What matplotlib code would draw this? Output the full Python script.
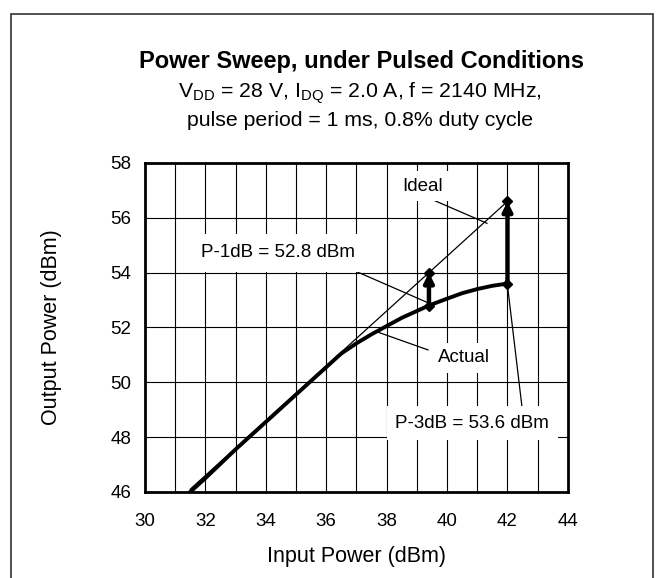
import matplotlib
matplotlib.use("Agg")
import matplotlib.pyplot as plt
from matplotlib.patches import Rectangle

plt.rcParams['font.family'] = ['Liberation Sans', 'DejaVu Sans']
plt.rcParams['mathtext.fontset'] = 'custom'
plt.rcParams['mathtext.rm'] = 'Liberation Sans'

pin_actual = [31.5, 32.0, 33.0, 34.0, 35.0, 36.0, 36.5, 37.0, 37.5, 38.0,
              38.5, 39.0, 39.4, 40.0, 40.5, 41.0, 41.5, 42.0]
pout_actual = [46.0, 46.5, 47.55, 48.55, 49.55, 50.55, 51.05, 51.42, 51.75, 52.05,
               52.35, 52.6, 52.8, 53.05, 53.25, 53.4, 53.52, 53.6]

# ideal (linear gain) line
pin_ideal = [31.5, 42.0]
pout_ideal = [46.1, 56.6]

# compression points
p1db_pin, p1db_out, p1db_ideal = 39.4, 52.8, 54.0
p3db_pin, p3db_out, p3db_ideal = 42.0, 53.6, 56.6

fig = plt.figure(figsize=(6.65, 5.78), dpi=100)
ax = fig.add_axes([0.218, 0.149, 0.636, 0.569])

# outer frame (open at bottom)
fig.add_artist(Rectangle((0.017, -0.05), 0.965, 1.026, transform=fig.transFigure,
                         fill=False, edgecolor='#333333', linewidth=1.2))

ax.set_xlim(30, 44)
ax.set_ylim(46, 58)
ax.set_xticks(range(30, 45, 2))
ax.set_xticks(range(31, 44, 2), minor=True)
ax.set_yticks(range(46, 59, 2))
ax.grid(True, which='both', axis='x', color='black', linewidth=0.8)
ax.grid(True, which='major', axis='y', color='black', linewidth=0.8)
ax.tick_params(axis='both', which='both', length=0, labelsize=13.5)
ax.tick_params(axis='x', pad=15)
ax.tick_params(axis='y', pad=10)
for s in ax.spines.values():
    s.set_linewidth(2)

ax.plot(pin_ideal, pout_ideal, color='black', linewidth=0.9, zorder=3)
ax.plot(pin_actual, pout_actual, color='black', linewidth=2.8, zorder=4)

for x0, y0, y1 in [(p1db_pin, p1db_out, p1db_ideal), (p3db_pin, p3db_out, p3db_ideal)]:
    ax.annotate('', xy=(x0, y1), xytext=(x0, y0),
                arrowprops=dict(arrowstyle='-|>', lw=3.2, color='black',
                                mutation_scale=14, shrinkA=0, shrinkB=0), zorder=5)
    ax.plot([x0, x0], [y0, y1], linestyle='none', marker='D', markersize=5,
            color='black', zorder=6)

box = dict(facecolor='white', edgecolor='none', boxstyle='square,pad=0.35')
ax.plot([39.54, 41.32], [56.65, 55.8], color='black', linewidth=0.9, zorder=3)
ax.text(39.2, 57.15, 'Ideal', ha='center', va='center', fontsize=13.5, bbox=box, zorder=7)

ax.plot([37.02, 39.37], [54.03, 52.9], color='black', linewidth=0.9, zorder=3)
ax.text(34.4, 54.72, 'P-1dB = 52.8 dBm', ha='center', va='center', fontsize=13.5,
        bbox=dict(facecolor='white', edgecolor='none', boxstyle='square,pad=0.55'), zorder=7)

ax.plot([39.37, 37.68], [51.18, 51.84], color='black', linewidth=0.9, zorder=3)
ax.text(40.55, 50.9, 'Actual', ha='center', va='center', fontsize=13.5, bbox=box, zorder=7)

ax.plot([42.48, 41.99], [49.1, 53.62], color='black', linewidth=0.9, zorder=3)
ax.text(40.83, 48.5, 'P-3dB = 53.6 dBm', ha='center', va='center', fontsize=13.5,
        bbox=dict(facecolor='white', edgecolor='none', boxstyle='square,pad=0.45'), zorder=7)

ax.set_xlabel('Input Power (dBm)', fontsize=15.5, va='center')
ax.set_ylabel('Output Power (dBm)', fontsize=15.5, va='center')
ax.xaxis.set_label_coords(0.5, -0.198)
ax.yaxis.set_label_coords(-0.22, 0.5)

fig.text(0.543, 0.893, 'Power Sweep, under Pulsed Conditions', ha='center', va='center',
         fontsize=17, fontweight='bold')
fig.text(0.541, 0.839, r'V$_{\rm DD}$ = 28 V, I$_{\rm DQ}$ = 2.0 A, f = 2140 MHz,',
         ha='center', va='center', fontsize=15.3)
fig.text(0.541, 0.792, 'pulse period = 1 ms, 0.8% duty cycle', ha='center', va='center',
         fontsize=15.3)

fig.savefig('out.png', dpi=100)
